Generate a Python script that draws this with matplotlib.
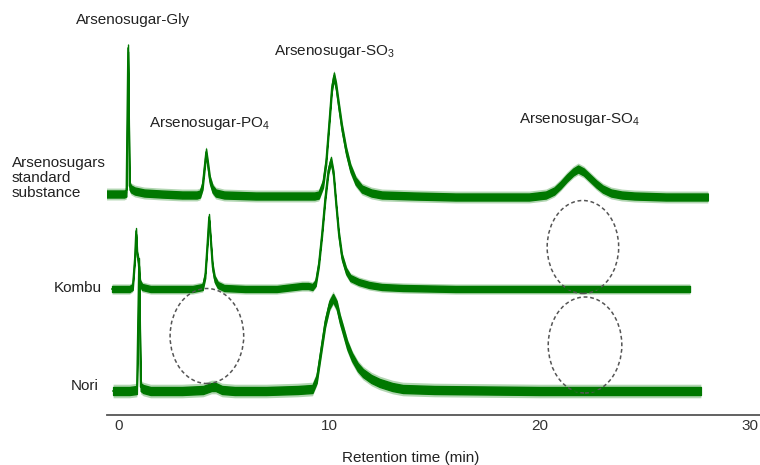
import matplotlib
matplotlib.use("Agg")
import matplotlib.pyplot as plt
from matplotlib.patches import Ellipse

plt.rcParams["font.family"] = ["Liberation Sans", "DejaVu Sans"]
plt.rcParams["mathtext.fontset"] = "custom"
plt.rcParams["mathtext.rm"] = "Liberation Sans"
plt.rcParams["mathtext.it"] = "Liberation Sans"

# ======= data =======
# retention time (min) / signal height above each trace's own baseline
std_time = [-0.76, 0.25, 0.35, 0.43, 0.50, 0.58, 0.75, 1.2, 2.0, 3.0, 3.7,
            3.85, 3.97, 4.06, 4.14, 4.22, 4.32, 4.45, 4.6, 5.0, 6.5, 8.0, 9.3,
            9.5, 9.7, 9.85, 10.0, 10.12, 10.22, 10.32, 10.45, 10.6, 10.8, 11.0,
            11.25, 11.55, 12.0, 12.5, 14.0, 16.0, 18.0, 19.5, 20.3, 20.7, 21.0,
            21.3, 21.6, 21.83, 22.1, 22.4, 22.7, 23.0, 23.4, 23.9, 24.5, 26.0, 28.0]
std_signal = [2, 2, 3, 148, 10, 7, 5, 3, 2, 1, 1,
              2, 10, 28, 44, 32, 16, 7, 3, 1, 0, 0, 0,
              1, 12, 35, 75, 108, 120, 110, 90, 68, 45, 28,
              15, 7, 3, 1, 0, -1, -1, -1, 1, 5, 11,
              18, 24, 27, 24, 18, 12, 7, 3, 1, 0, -1, -1]

kombu_time = [-0.33, 0.5, 0.65, 0.75, 0.81, 0.86, 0.92, 1.0, 1.1, 1.5, 2.5, 3.5,
              3.98, 4.1, 4.2, 4.28, 4.36, 4.45, 4.55, 4.7, 5.0, 6.0, 7.5, 8.3, 8.7,
              9.0, 9.2, 9.35, 9.5, 9.65, 9.8, 9.95, 10.08, 10.2, 10.32, 10.45, 10.6,
              10.8, 11.0, 11.4, 11.9, 12.5, 13.5, 16.0, 20.0, 24.0, 27.15]
kombu_signal = [0, 0, 2, 30, 58, 35, 28, 6, 2, 0, 0, 0,
                2, 14, 45, 72, 48, 22, 10, 4, 1, 0, 0, 2, 3,
                3, 2, 6, 25, 55, 90, 118, 129, 115, 85, 55, 32,
                18, 11, 7, 4, 2, 1, 0, 0, 0, 0]

nori_time = [-0.28, 0.5, 0.85, 0.95, 1.03, 1.15, 1.5, 3.0, 4.0, 4.4, 4.6, 4.9, 5.5,
             7.0, 8.5, 9.2, 9.4, 9.6, 9.8, 10.0, 10.18, 10.35, 10.5, 10.65, 10.85,
             11.08, 11.35, 11.6, 12.0, 12.4, 13.0, 13.5, 15.0, 20.0, 24.0, 27.67]
nori_signal = [0, 0, 1, 129, 4, 2, 0, 0, 1, 4, 4, 1, 0,
               0, 1, 2, 12, 40, 68, 86, 93, 86, 72, 61, 46,
               34, 24, 18, 12, 8, 4, 2, 1, 0, 0, 0]

trace_names = ["Arsenosugars\nstandard\nsubstance", "Kombu", "Nori"]
trace_baselines = [219, 126, 24]
noise_halfwidth = [3.5, 3.0, 4.0]

peak_names = ["Arsenosugar-Gly", "Arsenosugar-PO$_4$", "Arsenosugar-SO$_3$", "Arsenosugar-SO$_4$"]
peak_label_x = [0.67, 4.33, 10.27, 21.92]
peak_label_y = [395, 292, 363, 295]

# dashed circles marking missing peaks
circle_x = [4.18, 22.06, 22.16]
circle_y = [79, 168, 70]
circle_w = [3.5, 3.4, 3.5]
circle_h = [95, 93, 96]

green = "#007800"

fig = plt.figure(figsize=(7.6, 4.65), dpi=100)
ax = fig.add_axes([107 / 760, 50 / 465, 653 / 760, 415 / 465])

traces = [(std_time, std_signal), (kombu_time, kombu_signal), (nori_time, nori_signal)]
for (t, s), base, hw in zip(traces, trace_baselines, noise_halfwidth):
    y = [base + v for v in s]
    # faint outer band for the noise spikes, solid inner band
    ax.fill_between(t, [v - 1.7 * hw for v in y], [v + 1.7 * hw for v in y],
                    color=green, alpha=0.3, linewidth=0)
    ax.fill_between(t, [v - hw for v in y], [v + hw for v in y],
                    color=green, linewidth=1.0, edgecolor=green)
    ax.plot(t, y, color=green, linewidth=1.2)

for cx, cy, cw, ch in zip(circle_x, circle_y, circle_w, circle_h):
    ax.add_patch(Ellipse((cx, cy), cw, ch, fill=False, edgecolor="#555555",
                         linewidth=1.1, linestyle=(0, (2.5, 1.8))))

for name, x, y in zip(peak_names, peak_label_x, peak_label_y):
    ax.text(x, y, name, ha="center", va="center", fontsize=11, color="#222222")

# trace names on the left
fig.text(12 / 760, 1 - 178 / 465, trace_names[0], ha="left", va="center",
         fontsize=11, linespacing=1.1, color="#222222")
fig.text(102 / 760, 1 - 288 / 465, trace_names[1], ha="right", va="center",
         fontsize=11, color="#222222")
fig.text(99 / 760, 1 - 386 / 465, trace_names[2], ha="right", va="center",
         fontsize=11, color="#222222")

ax.set_xlim(-0.57, 30.48)
ax.set_ylim(0, 415)
for side in ["top", "right", "left"]:
    ax.spines[side].set_visible(False)
ax.spines["bottom"].set_color("#555555")
ax.spines["bottom"].set_linewidth(1.3)
ax.set_yticks([])
ax.set_xticks([0, 10, 20, 30])
ax.tick_params(axis="x", length=0, pad=3, labelsize=11, labelcolor="#333333")
ax.patch.set_alpha(0)

fig.text(411 / 760, 1 - 458 / 465, "Retention time (min)", ha="center", va="center",
         fontsize=11, color="#222222")

fig.savefig("out.png", dpi=100)
